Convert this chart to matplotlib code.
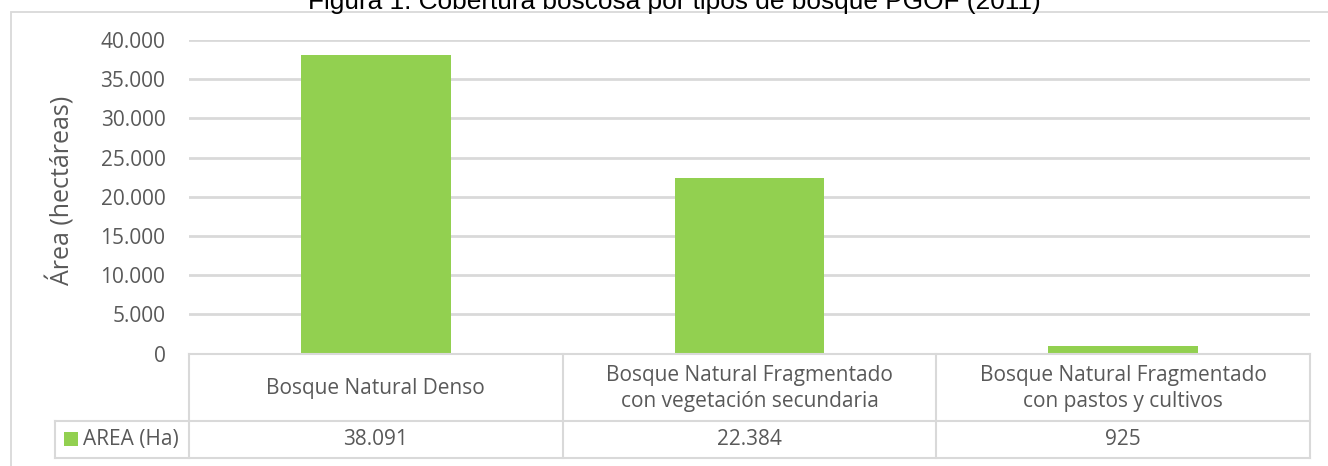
import matplotlib
matplotlib.use("Agg")
import matplotlib.pyplot as plt
from matplotlib.lines import Line2D
from matplotlib.patches import Rectangle

categories = ["Bosque Natural Denso",
              "Bosque Natural Fragmentado\ncon vegetación secundaria",
              "Bosque Natural Fragmentado\ncon pastos y cultivos"]
values = [38091, 22384, 925]
value_labels = ["38.091", "22.384", "925"]
yticks = [0, 5000, 10000, 15000, 20000, 25000, 30000, 35000, 40000]
ytick_labels = ["0", "5.000", "10.000", "15.000", "20.000", "25.000", "30.000", "35.000", "40.000"]
series_name = "AREA (Ha)"
title = "Figura 1. Cobertura boscosa por tipos de bosque PGOF (2011)"
ylabel = "Área (hectáreas)"

W, H = 1328, 466
fig = plt.figure(figsize=(W / 100, H / 100), dpi=100)
fig.patch.set_facecolor("white")

def fx(px):
    return px / W

def fy(py):
    return 1 - py / H

GREEN = "#92D050"
GRID = "#D9D9D9"
TXT = "#595959"
FONT = ["Open Sans", "DejaVu Sans"]
FS = 15

x0, x1 = 189, 1310
ytop, ybot = 40, 353.5
ax = fig.add_axes([fx(x0), fy(ybot), fx(x1) - fx(x0), (ybot - ytop) / H])
n = len(categories)
ax.set_xlim(-0.5, n - 0.5)
ax.set_ylim(0, 40000)
ax.bar(range(n), values, width=0.4, color=GREEN, zorder=3)
ax.set_yticks(yticks)
ax.set_yticklabels(ytick_labels, fontsize=FS, color=TXT, family=FONT)
ax.tick_params(axis="y", length=0, pad=17)
ax.set_xticks([])
ax.grid(axis="y", color=GRID, linewidth=2, zorder=0)
for s in ax.spines.values():
    s.set_visible(False)
ax.set_facecolor("none")
ax.set_ylabel(ylabel, fontsize=18, color=TXT, family=FONT)
ax.yaxis.set_label_coords((fx(75) - fx(x0)) / (fx(x1) - fx(x0)), 0.52)

# chart border
fig.add_artist(Rectangle((fx(11), fy(470)), fx(1340) - fx(11), fy(11.5) - fy(470),
                         transform=fig.transFigure, fill=False, edgecolor=GRID, linewidth=1.3))

# title (clipped at top, as in the reference)
fig.text(fx(674), fy(9.5), title, ha="center", va="baseline", fontsize=18.9,
         family=["Liberation Sans", "DejaVu Sans"], color="#000000")

# data table
col_w = (x1 - x0) / n
row1_top, row1_bot, row2_bot = 354, 421, 458
leg_x = 55

def hline(y, xa, xb):
    fig.add_artist(Line2D([fx(xa), fx(xb)], [fy(y), fy(y)], color=GRID, linewidth=1.5,
                          transform=fig.transFigure))

def vline(x, ya, yb):
    fig.add_artist(Line2D([fx(x), fx(x)], [fy(ya), fy(yb)], color=GRID, linewidth=1.5,
                          transform=fig.transFigure))

hline(row1_top, x0, x1)
hline(row1_bot, leg_x, x1)
hline(row2_bot, leg_x, x1)
for i in range(n + 1):
    vline(x0 + i * col_w, row1_top, row2_bot)
vline(leg_x, row1_bot, row2_bot)

for i, (c, v) in enumerate(zip(categories, value_labels)):
    cx = x0 + (i + 0.5) * col_w
    fig.text(fx(cx), fy((row1_top + row1_bot) / 2 + 1), c, ha="center", va="center",
             fontsize=FS, color=TXT, family=FONT, linespacing=1.25)
    fig.text(fx(cx), fy((row1_bot + row2_bot) / 2), v, ha="center", va="center",
             fontsize=FS, color=TXT, family=FONT)

# legend key in table
fig.add_artist(Rectangle((fx(64), fy(446)), fx(78) - fx(64), fy(432) - fy(446),
                         transform=fig.transFigure, facecolor=GREEN, edgecolor="none"))
fig.text(fx(83), fy((row1_bot + row2_bot) / 2), series_name, ha="left", va="center",
         fontsize=FS, color=TXT, family=FONT)

fig.savefig("out.png", dpi=100)
